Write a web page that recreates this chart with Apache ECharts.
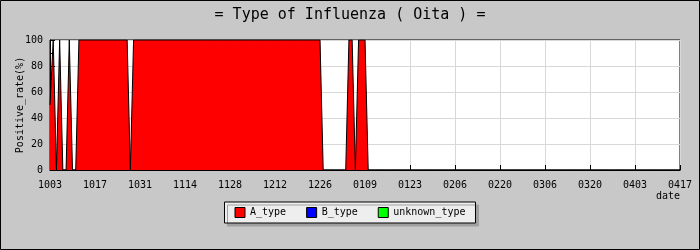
<!DOCTYPE html>
<html>
<head>
<meta charset="utf-8">
<script src="https://cdn.jsdelivr.net/npm/echarts@6/dist/echarts.min.js"></script>
<style>
html,body{margin:0;padding:0;background:#c8c8c8;}
#chart{width:700px;height:250px;}
</style>
</head>
<body>
<div id="chart"></div>
<script>
const titleText = '= Type of Influenza ( Oita ) =';
const yAxisName = 'Positive_rate(%)';
const xAxisName = 'date';
const seriesNames = ['A_type', 'B_type', 'unknown_type'];
const seriesColors = ['#ff0000', '#0000ff', '#00ff00'];

const categories = [
  '1003','1004','1005','1006','1007','1008','1009','1010','1011','1012','1013','1014','1015','1016',
  '1017','1018','1019','1020','1021','1022','1023','1024','1025','1026','1027','1028','1029','1030',
  '1031','1101','1102','1103','1104','1105','1106','1107','1108','1109','1110','1111','1112','1113',
  '1114','1115','1116','1117','1118','1119','1120','1121','1122','1123','1124','1125','1126','1127',
  '1128','1129','1130','1201','1202','1203','1204','1205','1206','1207','1208','1209','1210','1211',
  '1212','1213','1214','1215','1216','1217','1218','1219','1220','1221','1222','1223','1224','1225',
  '1226','1227','1228','1229','1230','1231','0101','0102','0103','0104','0105','0106','0107','0108',
  '0109','0110','0111','0112','0113','0114','0115','0116','0117','0118','0119','0120','0121','0122',
  '0123','0124','0125','0126','0127','0128','0129','0130','0131','0201','0202','0203','0204','0205',
  '0206','0207','0208','0209','0210','0211','0212','0213','0214','0215','0216','0217','0218','0219',
  '0220','0221','0222','0223','0224','0225','0226','0227','0228','0301','0302','0303','0304','0305',
  '0306','0307','0308','0309','0310','0311','0312','0313','0314','0315','0316','0317','0318','0319',
  '0320','0321','0322','0323','0324','0325','0326','0327','0328','0329','0330','0331','0401','0402',
  '0403','0404','0405','0406','0407','0408','0409','0410','0411','0412','0413','0414','0415','0416',
  '0417'
];

const tickLabels = ['1003','1017','1031','1114','1128','1212','1226','0109','0123','0206','0220','0306','0320','0403','0417'];

const aType = [
  50,100,0,100,0,0,100,0,0,100,100,100,100,100,
  100,100,100,100,100,100,100,100,100,100,100,0,100,100,
  100,100,100,100,100,100,100,100,100,100,100,100,100,100,
  100,100,100,100,100,100,100,100,100,100,100,100,100,100,
  100,100,100,100,100,100,100,100,100,100,100,100,100,100,
  100,100,100,100,100,100,100,100,100,100,100,100,100,100,
  100,0,0,0,0,0,0,0,0,100,100,0,100,100,
  100,0,0,0,0,0,0,0,0,0,0,0,0,0,
  0,0,0,0,0,0,0,0,0,0,0,0,0,0,
  0,0,0,0,0,0,0,0,0,0,0,0,0,0,
  0,0,0,0,0,0,0,0,0,0,0,0,0,0,
  0,0,0,0,0,0,0,0,0,0,0,0,0,0,
  0,0,0,0,0,0,0,0,0,0,0,0,0,0,
  0,0,0,0,0,0,0,0,0,0,0,0,0,0,
  0
];

const bType = [
  0,0,0,0,0,0,0,0,0,0,0,0,0,0,
  0,0,0,0,0,0,0,0,0,0,0,0,0,0,
  0,0,0,0,0,0,0,0,0,0,0,0,0,0,
  0,0,0,0,0,0,0,0,0,0,0,0,0,0,
  0,0,0,0,0,0,0,0,0,0,0,0,0,0,
  0,0,0,0,0,0,0,0,0,0,0,0,0,0,
  0,0,0,0,0,0,0,0,0,0,0,0,0,0,
  0,0,0,0,0,0,0,0,0,0,0,0,0,0,
  0,0,0,0,0,0,0,0,0,0,0,0,0,0,
  0,0,0,0,0,0,0,0,0,0,0,0,0,0,
  0,0,0,0,0,0,0,0,0,0,0,0,0,0,
  0,0,0,0,0,0,0,0,0,0,0,0,0,0,
  0,0,0,0,0,0,0,0,0,0,0,0,0,0,
  0,0,0,0,0,0,0,0,0,0,0,0,0,0,
  0
];

const unknownType = [
  0,0,0,0,0,0,0,0,0,0,0,0,0,0,
  0,0,0,0,0,0,0,0,0,0,0,0,0,0,
  0,0,0,0,0,0,0,0,0,0,0,0,0,0,
  0,0,0,0,0,0,0,0,0,0,0,0,0,0,
  0,0,0,0,0,0,0,0,0,0,0,0,0,0,
  0,0,0,0,0,0,0,0,0,0,0,0,0,0,
  0,0,0,0,0,0,0,0,0,0,0,0,0,0,
  0,0,0,0,0,0,0,0,0,0,0,0,0,0,
  0,0,0,0,0,0,0,0,0,0,0,0,0,0,
  0,0,0,0,0,0,0,0,0,0,0,0,0,0,
  0,0,0,0,0,0,0,0,0,0,0,0,0,0,
  0,0,0,0,0,0,0,0,0,0,0,0,0,0,
  0,0,0,0,0,0,0,0,0,0,0,0,0,0,
  0,0,0,0,0,0,0,0,0,0,0,0,0,0,
  0
];

const MONO = '"DejaVu Sans Mono", "Liberation Mono", monospace';
const isTick = (idx, val) => tickLabels.indexOf(val) !== -1;
const seriesData = [aType, bType, unknownType];

const chart = echarts.init(document.getElementById('chart'), null, {renderer: 'canvas'});
chart.setOption({
  animation: false,
  backgroundColor: '#c8c8c8',
  title: {
    text: titleText,
    left: 'center',
    top: 3,
    textStyle: {fontFamily: MONO, fontSize: 15, fontWeight: 'normal', color: '#000'}
  },
  legend: {
    data: seriesNames,
    left: 'center',
    top: 202,
    icon: 'rect',
    itemWidth: 10,
    itemHeight: 10,
    itemGap: 20,
    padding: [5, 10, 5, 10],
    backgroundColor: '#eeeeee',
    borderColor: '#000',
    borderWidth: 1,
    borderRadius: 0,
    shadowColor: '#a0a0a0',
    shadowBlur: 0,
    shadowOffsetX: 3,
    shadowOffsetY: 3,
    itemStyle: {borderColor: '#000', borderWidth: 1},
    textStyle: {fontFamily: MONO, fontSize: 10, color: '#000'}
  },
  grid: {
    left: 50, right: 20, top: 40, bottom: 80,
    containLabel: false,
    outerBoundsMode: 'none',
    show: true, borderColor: '#000', borderWidth: 1, backgroundColor: '#fff'
  },
  xAxis: {
    type: 'category',
    data: categories,
    boundaryGap: false,
    name: xAxisName,
    nameLocation: 'end',
    nameGap: 0,
    nameMoveOverlap: false,
    nameTextStyle: {fontFamily: MONO, fontSize: 10, color: '#000', align: 'right', verticalAlign: 'top', padding: [21, 0, 0, 0]},
    axisLine: {lineStyle: {color: '#000', width: 1}},
    axisTick: {show: true, inside: true, length: 5, interval: isTick, lineStyle: {color: '#000'}},
    axisLabel: {interval: isTick, fontFamily: MONO, fontSize: 10, color: '#000', margin: 10},
    splitLine: {show: true, interval: isTick, lineStyle: {color: '#d8d8d8', width: 1}}
  },
  yAxis: {
    type: 'value',
    min: 0, max: 100, interval: 20,
    name: yAxisName,
    nameLocation: 'middle',
    nameGap: 25,
    nameMoveOverlap: false,
    nameRotate: 90,
    nameTextStyle: {fontFamily: MONO, fontSize: 10, color: '#000'},
    axisLine: {show: true, lineStyle: {color: '#000', width: 1}},
    axisTick: {show: true, inside: true, length: 5, lineStyle: {color: '#000'}},
    minorTick: {show: true, splitNumber: 2, length: 3, lineStyle: {color: '#000'}},
    axisLabel: {fontFamily: MONO, fontSize: 10, color: '#000', margin: 7},
    splitLine: {show: true, lineStyle: {color: '#d8d8d8', width: 1}}
  },
  series: seriesNames.map((name, i) => ({
    name: name,
    type: 'line',
    stack: 'total',
    data: seriesData[i],
    showSymbol: false,
    symbol: 'none',
    itemStyle: {color: seriesColors[i]},
    lineStyle: i === 0 ? {color: '#000', width: 1} : {color: '#000', width: 1, opacity: 0},
    areaStyle: {color: seriesColors[i], opacity: 1}
  })),
  graphic: [{
    type: 'rect',
    shape: {x: 0.5, y: 0.5, width: 699, height: 249},
    style: {fill: null, stroke: '#000', lineWidth: 1},
    silent: true,
    z: 100
  }]
});
</script>
</body>
</html>
